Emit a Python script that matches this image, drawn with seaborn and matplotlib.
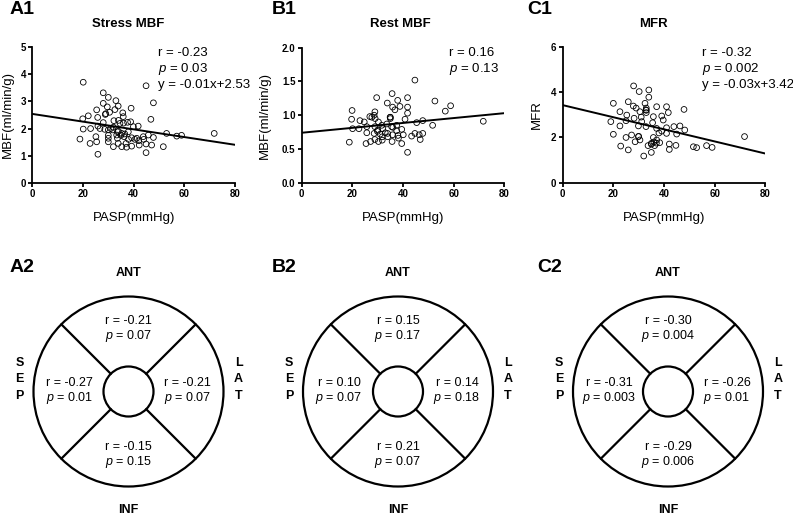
import numpy as np
import pandas as pd
import matplotlib.pyplot as plt
import seaborn as sns
from matplotlib.patches import Circle

# ---- scatter data ----
stress_pasp = [20.1, 44.9, 28, 30, 33, 28, 47.8, 33.9, 29.6, 39, 25.4, 32.6, 35.7, 28.8, 22.1,
               19.9, 25.8, 35.9, 46.8, 38.8, 32.2, 28, 34.6, 37.6, 25.9, 20.1, 23, 26.7, 28.6, 30,
               31.7, 33.6, 37.9, 39.9, 41.8, 35.3, 36.2, 39.2, 41.2, 43.8, 45.8, 47.8, 53, 57, 58.9,
               71.8, 18.8, 25.1, 30, 33.3, 22.8, 25.4, 30, 32, 33.9, 35.3, 37.2, 39.2, 42.2, 44.9,
               47.1, 51.7, 44.9, 25.9, 33.6, 30.5, 29, 31, 32, 34, 35, 36.5, 38, 40.5, 42, 44, 37,
               30, 34, 36]
stress_mbf = [3.71, 3.58, 3.32, 3.15, 3.03, 2.93, 2.95, 2.83, 2.8, 2.75, 2.69, 2.7, 2.58, 2.52, 2.47,
              2.36, 2.41, 2.44, 2.34, 2.25, 2.29, 2.22, 2.19, 2.23, 2.09, 1.98, 2.0, 2.0, 1.97, 1.95,
              1.95, 1.88, 1.88, 2.07, 2.09, 1.82, 1.7, 1.66, 1.64, 1.70, 1.76, 1.67, 1.82, 1.72, 1.75,
              1.82, 1.61, 1.70, 1.64, 1.76, 1.45, 1.51, 1.51, 1.33, 1.45, 1.33, 1.31, 1.35, 1.39, 1.43,
              1.39, 1.33, 1.11, 1.05, 1.64, 2.6, 2.55, 2.0, 2.05, 1.9, 1.75, 1.8, 1.6, 1.6, 1.55, 1.6,
              1.45, 1.75, 2.3, 2.2]

rest_pasp = [44.7, 35.7, 29.6, 33.8, 37.9, 41.8, 52.6, 58.8, 56.7, 19.9, 28.9, 35.9, 36.8, 38.8,
             41.8, 41.8, 26.9, 27.7, 28.6, 34.9, 30.3, 19.7, 23, 24.7, 20.1, 22.6, 25.7, 28.9, 31.6,
             33.6, 35.5, 37.5, 40.8, 45.4, 47.8, 51.7, 71.7, 18.8, 25.7, 28.6, 29.9, 31.8, 33.9, 35.9,
             37.5, 39.5, 40.1, 43.4, 44.7, 46.4, 47.8, 46.8, 25.4, 27.2, 30.3, 31.8, 35.7, 39.5, 41.8,
             38.2, 28.9, 30, 32, 33, 35, 35, 31, 36, 29, 34, 38]
rest_mbf = [1.52, 1.32, 1.26, 1.18, 1.22, 1.26, 1.21, 1.14, 1.06, 1.07, 1.05, 1.12, 1.08, 1.13,
            1.12, 1.03, 0.98, 0.97, 1.0, 0.97, 0.9, 0.94, 0.92, 0.9, 0.8, 0.8, 0.83, 0.83, 0.85,
            0.87, 0.83, 0.85, 0.94, 0.89, 0.92, 0.85, 0.91, 0.6, 0.74, 0.73, 0.76, 0.68, 0.73, 0.71,
            0.77, 0.79, 0.71, 0.69, 0.73, 0.71, 0.73, 0.64, 0.58, 0.61, 0.61, 0.63, 0.61, 0.58, 0.45,
            0.66, 0.64, 0.78, 0.8, 0.74, 0.95, 0.97, 0.72, 0.82, 0.95, 0.68, 0.7]

mfr_pasp = [28, 34, 30.2, 34, 25.9, 20, 27.9, 32.5, 22.6, 37.1, 41, 47.9, 25.3, 30.5, 32.9, 28.2,
            35.8, 39.1, 41.7, 19, 25, 31.2, 35.5, 39.7, 29.9, 32.9, 37.1, 41, 43.9, 46.3, 48.2, 22.6,
            39.1, 41, 45, 25, 20, 27.2, 29.9, 35.8, 37.1, 35, 33.7, 36.3, 38.3, 42.1, 42.1, 44.7,
            51.6, 52.9, 56.8, 59, 71.8, 22.9, 25.9, 32, 35, 30.5, 28.6, 33, 33, 33, 31, 36, 37, 35,
            30, 38, 29]
mfr = [4.28, 4.1, 4.03, 3.78, 3.58, 3.51, 3.39, 3.51, 3.14, 3.36, 3.36, 3.24, 2.99, 3.14, 3.22,
       2.85, 2.92, 2.95, 3.10, 2.70, 2.74, 2.70, 2.65, 2.77, 2.51, 2.48, 2.40, 2.43, 2.48, 2.51,
       2.33, 2.51, 2.28, 2.18, 2.15, 2.0, 2.14, 2.11, 2.04, 2.0, 1.89, 1.74, 1.64, 1.64, 1.77,
       1.71, 1.47, 1.65, 1.59, 1.55, 1.64, 1.56, 2.04, 1.62, 1.45, 1.18, 1.34, 1.89, 1.81, 3.2,
       3.3, 3.1, 2.9, 1.8, 1.75, 1.7, 2.05, 2.2, 3.3]

# fitted lines, end values at x = 0 and x = 80
fit_x = [0, 80]
stress_fit = [2.54, 1.40]
rest_fit = [0.74, 1.03]
mfr_fit = [3.43, 1.29]

stress_stats = ["r = -0.23", "$p$ = 0.03", "y = -0.01x+2.53"]
rest_stats = ["r = 0.16", "$p$ = 0.13"]
mfr_stats = ["r = -0.32", "$p$ = 0.002", "y = -0.03x+3.42"]

# ---- segment data (ANT, SEP, LAT, INF) ----
segments = ["ANT", "SEP", "LAT", "INF"]
stress_r = ["-0.21", "-0.27", "-0.21", "-0.15"]
stress_p = ["0.07", "0.01", "0.07", "0.15"]
rest_r = ["0.15", "0.10", "0.14", "0.21"]
rest_p = ["0.17", "0.07", "0.18", "0.07"]
mfr_r = ["-0.30", "-0.31", "-0.26", "-0.29"]
mfr_p = ["0.004", "0.003", "0.01", "0.006"]

sns.set_style("ticks")
plt.rcParams['font.family'] = ['Liberation Sans', 'DejaVu Sans']
plt.rcParams['mathtext.fontset'] = 'custom'
plt.rcParams['mathtext.rm'] = 'Liberation Sans'
plt.rcParams['mathtext.it'] = 'Liberation Sans:italic'
for k in ['text.color', 'axes.labelcolor', 'xtick.color', 'ytick.color', 'axes.edgecolor']:
    plt.rcParams[k] = 'black'

W, H = 793, 516
fig = plt.figure(figsize=(W / 100, H / 100), dpi=100)

# overlay in pixel coordinates for labels and the bullseye diagrams
ov = fig.add_axes([0, 0, 1, 1])
ov.set_xlim(0, W)
ov.set_ylim(H, 0)
ov.axis('off')


def px_axes(left, top, right, bottom):
    return fig.add_axes([left / W, 1 - bottom / H, (right - left) / W, (bottom - top) / H])


panels = [
    dict(box=(32.3, 47.3, 235, 182.7), x=stress_pasp, y=stress_mbf, fit=stress_fit, ylim=5,
         yticks=[0, 1, 2, 3, 4, 5], fmt='%d', ylabel='MBF(ml/min/g)', ylx=-0.12,
         stats=stress_stats, sx=49.6, sy=[4.79, 4.2, 3.61],
         title='Stress MBF', tx=128, label='A1', lx=10),
    dict(box=(301.7, 47.7, 504.3, 182.7), x=rest_pasp, y=rest_mbf, fit=rest_fit, ylim=2,
         yticks=[0, 0.5, 1.0, 1.5, 2.0], fmt='%.1f', ylabel='MBF(ml/min/g)', ylx=-0.181,
         stats=rest_stats, sx=58.2, sy=[1.92, 1.68],
         title='Rest MBF', tx=400, label='B1', lx=272),
    dict(box=(562.7, 47.0, 765.3, 182.7), x=mfr_pasp, y=mfr, fit=mfr_fit, ylim=6,
         yticks=[0, 2, 4, 6], fmt='%d', ylabel='MFR', ylx=-0.128,
         stats=mfr_stats, sx=55, sy=[5.74, 5.03, 4.32],
         title='MFR', tx=653, label='C1', lx=527),
]

for p in panels:
    ax = px_axes(*p['box'])
    df = pd.DataFrame({'PASP': p['x'], 'val': p['y']})
    sns.scatterplot(data=df, x='PASP', y='val', ax=ax, marker='o', s=17,
                    facecolor='none', edgecolor='black', linewidth=0.6, zorder=3)
    sns.lineplot(x=fit_x, y=p['fit'], ax=ax, color='black', linewidth=1.4, zorder=4)
    ax.set_xlim(0, 80)
    ax.set_ylim(0, p['ylim'])
    ax.set_xticks([0, 20, 40, 60, 80])
    ax.set_yticks(p['yticks'])
    ax.yaxis.set_major_formatter(plt.FormatStrFormatter(p['fmt']))
    for s in ['top', 'right']:
        ax.spines[s].set_visible(False)
    for s in ['left', 'bottom']:
        ax.spines[s].set_linewidth(1.3)
    ax.tick_params(width=1.3, length=3, labelsize=7, pad=1.5)
    for t in ax.get_xticklabels() + ax.get_yticklabels():
        t.set_fontweight('bold')
    ax.set_xlabel('PASP(mmHg)', fontsize=9.5)
    ax.set_ylabel(p['ylabel'], fontsize=9.5)
    ax.xaxis.set_label_coords(0.5, -0.26)
    ax.xaxis.label.set_va('center')
    ax.yaxis.set_label_coords(p['ylx'], 0.5)
    ax.yaxis.label.set_va('center')
    for txt, yy in zip(p['stats'], p['sy']):
        ax.text(p['sx'], yy, txt, fontsize=9.5, va='center', ha='left')
    ov.text(p['tx'], 24, p['title'], fontsize=9.5, fontweight='bold', ha='center', va='center')
    ov.text(p['lx'], 10, p['label'], fontsize=14, fontweight='bold', ha='left', va='center')

# ---- bullseye diagrams ----
bulls = [
    dict(cx=128.5, label='A2', lx=10, r=stress_r, p=stress_p),
    dict(cx=398, label='B2', lx=272, r=rest_r, p=rest_p),
    dict(cx=668, label='C2', lx=537, r=mfr_r, p=mfr_p),
]
cy = 391.5
R_out, R_in = 95, 25
# text offsets for each segment (ANT, SEP, LAT, INF)
seg_dx = [0, -59, 59, 0]
seg_dy = [-62.5, -1.5, -1.5, 62.5]

for b in bulls:
    cx = b['cx']
    ov.add_patch(Circle((cx, cy), R_out, fill=False, lw=1.6, color='black'))
    ov.add_patch(Circle((cx, cy), R_in, fill=False, lw=1.6, color='black'))
    for ang in [45, 135, 225, 315]:
        a = np.deg2rad(ang)
        ov.plot([cx + R_in * np.cos(a), cx + R_out * np.cos(a)],
                [cy + R_in * np.sin(a), cy + R_out * np.sin(a)], color='black', lw=1.6)
    for i in range(4):
        x0 = cx + seg_dx[i]
        y0 = cy + seg_dy[i]
        ov.text(x0, y0 - 7.5, 'r = ' + b['r'][i], fontsize=9, ha='center', va='center')
        ov.text(x0, y0 + 7.5, '$p$ = ' + b['p'][i], fontsize=9, ha='center', va='center')
    ov.text(cx, 273, segments[0], fontsize=9, fontweight='bold', ha='center', va='center')
    ov.text(cx, 510, segments[3], fontsize=9, fontweight='bold', ha='center', va='center')
    for k, ch in enumerate(segments[1]):
        ov.text(cx - 109, 363 + 16.5 * k, ch, fontsize=9, fontweight='bold', ha='center', va='center')
    for k, ch in enumerate(segments[2]):
        ov.text(cx + 110, 363 + 16.5 * k, ch, fontsize=9, fontweight='bold', ha='center', va='center')
    ov.text(b['lx'], 268, b['label'], fontsize=14, fontweight='bold', ha='left', va='center')

fig.savefig('out.png', dpi=100)
